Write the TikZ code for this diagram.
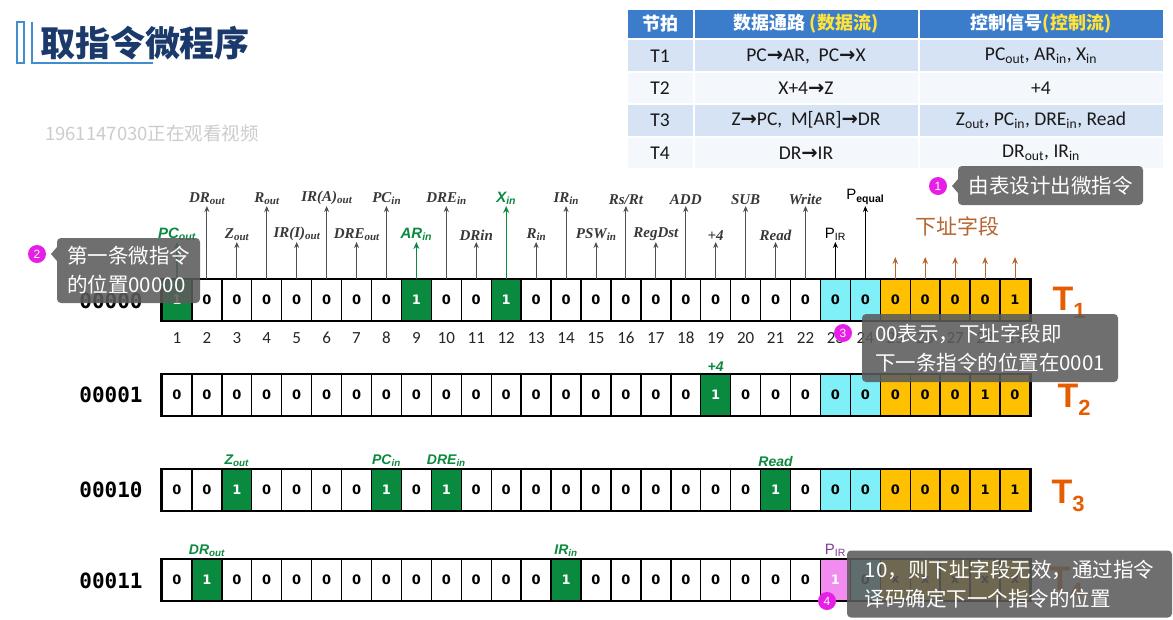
\documentclass[tikz,border=0pt]{standalone}
\usepackage{fontspec}
\setmainfont{Liberation Serif}
\newfontfamily\cjk{Noto Sans CJK SC}
\newfontfamily\carl{Carlito}
\newfontfamily\dvs{DejaVu Sans}
\newfontfamily\dvmono{DejaVu Sans Mono}
\newfontfamily\lsans{Liberation Sans}
\usetikzlibrary{arrows.meta}
\definecolor{gr}{HTML}{0A8A3E}
\definecolor{cyn}{HTML}{80F0F8}
\definecolor{yl}{HTML}{FFC000}
\definecolor{pk}{HTML}{F28CF0}
\definecolor{br}{HTML}{B5652E}
\definecolor{tor}{HTML}{E65C00}
\definecolor{ttl}{HTML}{1B3A6B}
\definecolor{hdr}{HTML}{3B7DCB}
\definecolor{rowa}{HTML}{D6E3F4}
\definecolor{rowb}{HTML}{F4F7FB}
\definecolor{mag}{HTML}{E51FE5}
\definecolor{cal}{HTML}{5C5C5C}
\definecolor{pur}{HTML}{7A3C9E}
\definecolor{sg}{HTML}{505050}
\definecolor{deco}{HTML}{3E8ED0}
\definecolor{hy}{HTML}{FFE23A}
\newcommand{\fsz}[2]{\fontsize{#1}{#2}\selectfont}
\newcommand{\rarr}{{\dvs\bfseries →}}
\newcommand{\cx}[1]{162+(#1-0.5)*29.93}
\newcommand{\sbs}[1]{\raisebox{-0.3ex}{\fsz{11}{11}#1}}
\begin{document}
\begin{tikzpicture}[x=1pt,y=-1pt,
 cell/.style={draw=black, line width=1.4pt, minimum width=29.93pt, minimum height=41pt, inner sep=0pt, font=\dvs\bfseries\fsz{13}{13}},
 cellW/.style={cell, fill=white},
 cellG/.style={cell, fill=gr, text=white},
 cellC/.style={cell, fill=cyn},
 cellY/.style={cell, fill=yl},
 cellP/.style={cell, fill=pk, text=white},
 frame/.style={draw=black, line width=2.4pt},
 sig/.style={draw=sg, line width=0.9pt, -{Stealth[length=6pt,width=5pt]}},
 gsig/.style={draw=gr, line width=1.3pt, -{Stealth[length=7pt,width=6pt]}},
 bsig/.style={draw=br, line width=1pt, -{Stealth[length=7pt,width=5.5pt]}},
 ksig/.style={draw=black, line width=1.1pt, -{Stealth[length=6pt,width=5pt]}},
 lab/.style={font=\itshape\bfseries\fsz{15}{17}, text=black!78, inner sep=1pt, anchor=south},
 glab/.style={font=\lsans\bfseries\itshape\fsz{15}{17}, text=gr, inner sep=1pt, anchor=south},
 plab/.style={font=\lsans\fsz{15}{17}, text=black, inner sep=1pt, anchor=south},
 slab/.style={font=\lsans\bfseries\itshape\fsz{14}{16}, text=gr, inner sep=1pt, anchor=south, yshift=1pt},
 addr/.style={font=\dvmono\bfseries\fsz{21}{21}},
 num/.style={font=\carl\fsz{17}{17}, text=black!85},
 tlab/.style={font=\lsans\bfseries\fsz{34}{34}, text=tor},
 th/.style={font=\cjk\bfseries\fsz{18}{18}, text=white},
 td/.style={font=\carl\fsz{19.5}{19.5}, text=black!90},
 callout/.style={fill=cal, fill opacity=0.88, text opacity=1, text=white, rounded corners=4pt, font=\cjk\fsz{20.5}{29}, align=left, inner sep=0pt},
 badge/.style={circle, fill=mag, text=white, minimum size=18pt, inner sep=0pt, font=\lsans\fsz{12}{12}},
]
\useasboundingbox (0,0) rectangle (1173,619);
\fill[white] (0,0) rectangle (1173,619);

% title
\draw[deco, line width=1.4pt] (17,22) rectangle (24,63);
\draw[deco, line width=1.4pt] (32,22) -- (32,63) -- (153,63);
\node[font=\cjk\bfseries\fsz{35}{35}, text=ttl] (title) at (145,43) {取指令微程序};
\node[font=\cjk\fsz{18.5}{18.5}, text=black!20] (wm) at (152,133) {1961147030正在观看视频};

% table
\fill[hdr] (628,10) rectangle (1163,38);
\fill[rowa] (628,39) rectangle (1163,72);
\fill[rowb] (628,72) rectangle (1163,104);
\fill[rowa] (628,104) rectangle (1163,137);
\fill[rowb] (628,137) rectangle (1163,168);
\draw[white, line width=2pt] (694,10) -- (694,168) (919,10) -- (919,168);
\draw[white, line width=2pt] (628,39) -- (1163,39) (628,72) -- (1163,72) (628,104) -- (1163,104) (628,137) -- (1163,137);
\node[th] (h1) at (660,24) {节拍};
\node[th] (h2) at (806,24) {数据通路 \textcolor{hy}{(数据流)}};
\node[th] (h3) at (1041,24) {控制信号\textcolor{hy}{(控制流)}};
\node[td] (a1) at (660,56) {T1};
\node[td] (b1) at (806,56) {PC\rarr AR,\ \ PC\rarr X};
\node[td] (c1) at (1041,56) {PC\textsubscript{out}, AR\textsubscript{in}, X\textsubscript{in}};
\node[td] (a2) at (660,88) {T2};
\node[td] (b2) at (806,88) {X+4\rarr Z};
\node[td] (c2) at (1041,88) {+4};
\node[td] (a3) at (660,120) {T3};
\node[td] (b3) at (806,120) {Z\rarr PC,\ \ M[AR]\rarr DR};
\node[td] (c3) at (1041,120) {Z\textsubscript{out}, PC\textsubscript{in}, DRE\textsubscript{in}, Read};
\node[td] (a4) at (660,153) {T4};
\node[td] (b4) at (806,153) {DR\rarr IR};
\node[td] (c4) at (1041,153) {DR\textsubscript{out}, IR\textsubscript{in}};

% rows of cells
\foreach \r/\yc/\g/\ys in {r0/300/{1,9,12}/{25/0,26/0,27/0,28/0,29/1},
                           r1/395/{19}/{25/0,26/0,27/0,28/1,29/0},
                           r2/490/{3,8,10,21}/{25/0,26/0,27/0,28/1,29/1},
                           r3/580/{2,14}/{25/x,26/x,27/x,28/x,29/x}} {
  \foreach \i in {1,...,22} {\node[cellW] (\r c\i) at ({\cx{\i}},\yc) {0};}
  \foreach \i in {23,24} {\node[cellC] (\r c\i) at ({\cx{\i}},\yc) {0};}
  \foreach \i/\v in \ys {\node[cellY] (\r c\i) at ({\cx{\i}},\yc) {\v};}
  \foreach \i in \g {\node[cellG] (\r c\i) at ({\cx{\i}},\yc) {1};}
}
\node[cellP] (r3c23) at ({\cx{23}},580) {1};
\foreach \r in {r0,r1,r2,r3} {\draw[frame] (\r c1.north west) rectangle (\r c29.south east);}

% signal labels and arrows (row 0)
\foreach \i/\t in {2/{DR\sbs{out}}, 4/{R\sbs{out}}, 6/{IR(A)\sbs{out}}, 8/{PC\sbs{in}}, 10/{DRE\sbs{in}}, 14/{IR\sbs{in}}, 16/{Rs/Rt}, 18/{ADD}, 20/{SUB}, 22/{Write}} {
  \node[lab] (s\i) at ({\cx{\i}},206) {\t};
  \draw[sig] (r0c\i.north) -- (s\i.south);
}
\foreach \i/\t in {3/{Z\sbs{out}}, 5/{IR(I)\sbs{out}}, 7/{DRE\sbs{out}}, 11/{DRin}, 13/{R\sbs{in}}, 15/{PSW\sbs{in}}, 17/{RegDst}, 19/{+4}, 21/{Read}} {
  \node[lab] (s\i) at ({\cx{\i}},242) {\t};
  \draw[sig] (r0c\i.north) -- (s\i.south);
}
\node[glab] (s12) at ({\cx{12}},206) {X\textsubscript{in}};
\draw[gsig] (r0c12.north) -- (s12.south);
\node[glab] (s1) at ({\cx{1}},242) {PC\textsubscript{out}};
\draw[gsig] (r0c1.north) -- (s1.south);
\node[glab] (s9) at ({\cx{9}},242) {AR\textsubscript{in}};
\draw[gsig] (r0c9.north) -- (s9.south);
\node[plab] (s24) at ({\cx{24}},206) {P\textsubscript{\bfseries equal}};
\draw[ksig] (r0c24.north) -- (s24.south);
\node[plab] (s23) at ({\cx{23}},242) {P\textsubscript{IR}};
\draw[ksig] (r0c23.north) -- (s23.south);
\foreach \i in {25,...,29} {
  \coordinate (y\i) at ({\cx{\i}},257);
  \draw[bsig] (r0c\i.north) -- (y\i);
}
\node[font=\cjk\fsz{21}{21}, text=br] (xzd) at (957,226) {下址字段};

% bit numbers
\foreach \i in {1,...,29} {\node[num] (n\i) at ({\cx{\i}},338) {\i};}

% labels above rows 1-3
\node[slab] (l19) at (r1c19.north) {+4};
\node[slab] (l3) at (r2c3.north) {Z\textsubscript{out}};
\node[slab] (l8) at (r2c8.north) {PC\textsubscript{in}};
\node[slab] (l10) at (r2c10.north) {DRE\textsubscript{in}};
\node[slab] (l21) at (r2c21.north) {Read};
\node[slab] (l2) at (r3c2.north) {DR\textsubscript{out}};
\node[slab] (l14) at (r3c14.north) {IR\textsubscript{in}};
\node[plab, text=pur, yshift=1pt] (l23) at (r3c23.north) {P\textsubscript{IR}};

% addresses
\node[addr] (ad0) at (111,301) {00000};
\node[addr] (ad1) at (111,395) {00001};
\node[addr] (ad2) at (111,490) {00010};
\node[addr] (ad3) at (111,581) {00011};

% T labels
\node[tlab] (t1) at (1069,303) {T\raisebox{-8pt}{\fsz{22}{22}1}};
\node[tlab] (t2) at (1074,400) {T\raisebox{-8pt}{\fsz{22}{22}2}};
\node[tlab] (t3) at (1068,496) {T\raisebox{-8pt}{\fsz{22}{22}3}};
\node[tlab] (t4) at (1066,583) {T\raisebox{-8pt}{\fsz{22}{22}4}};

% callouts
\node[callout, minimum width=185pt, minimum height=39pt] (cb1) at (1050.5,185.5) {由表设计出微指令};
\fill[cal, opacity=0.88] (958,179) -- (952,186) -- (958,193) -- cycle;
\node[badge] (m1) at (938,186) {1};
\node[callout, minimum width=143pt, minimum height=65pt] (cb2) at (128.5,270.5) {第一条微指令\\的位置00000};
\fill[cal, opacity=0.88] (57,247) -- (51,254) -- (57,261) -- cycle;
\node[badge] (m2) at (37,254) {2};
\node[callout, minimum width=256pt, minimum height=68pt] (cb3) at (990,348) {00表示，下址字段即\\下一条指令的位置在0001};
\node[badge] (m3) at (843,333) {3};
\node[callout, minimum width=325pt, minimum height=67pt] (cb4) at (1009.5,584) {10，则下址字段无效，通过指令\\译码确定下一个指令的位置};
\node[badge] (m4) at (827,601) {4};
\end{tikzpicture}
\end{document}
